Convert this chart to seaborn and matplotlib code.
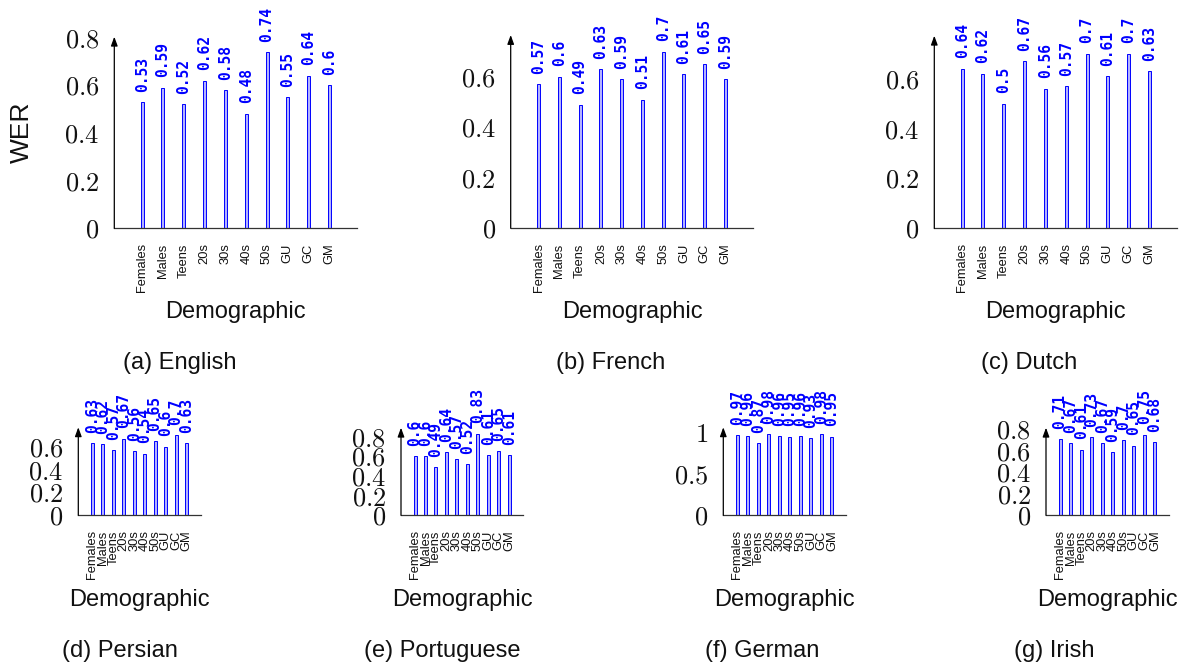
import matplotlib
matplotlib.use("Agg")
import matplotlib.pyplot as plt
import numpy as np
import pandas as pd
import seaborn as sns
from matplotlib.ticker import FixedLocator, FuncFormatter

# ---- data -------------------------------------------------------------
demographics = ["Females", "Males", "Teens", "20s", "30s", "40s", "50s", "GU", "GC", "GM"]

wer_english = [0.53, 0.59, 0.52, 0.62, 0.58, 0.48, 0.74, 0.55, 0.64, 0.60]
wer_french = [0.57, 0.60, 0.49, 0.63, 0.59, 0.51, 0.70, 0.61, 0.65, 0.59]
wer_dutch = [0.64, 0.62, 0.50, 0.67, 0.56, 0.57, 0.70, 0.61, 0.70, 0.63]
wer_persian = [0.63, 0.62, 0.57, 0.67, 0.56, 0.54, 0.65, 0.60, 0.70, 0.63]
wer_portuguese = [0.60, 0.60, 0.49, 0.64, 0.57, 0.52, 0.83, 0.61, 0.65, 0.61]
wer_german = [0.97, 0.96, 0.87, 0.98, 0.96, 0.95, 0.96, 0.93, 0.98, 0.95]
wer_irish = [0.71, 0.67, 0.61, 0.73, 0.67, 0.59, 0.70, 0.65, 0.75, 0.68]

captions = ["(a) English", "(b) French", "(c) Dutch", "(d) Persian",
            "(e) Portuguese", "(f) German", "(g) Irish"]
series = [wer_english, wer_french, wer_dutch, wer_persian,
          wer_portuguese, wer_german, wer_irish]
ytick_sets = [
    [0, 0.2, 0.4, 0.6, 0.8],
    [0, 0.2, 0.4, 0.6],
    [0, 0.2, 0.4, 0.6],
    [0, 0.2, 0.4, 0.6],
    [0, 0.2, 0.4, 0.6, 0.8],
    [0, 0.5, 1],
    [0, 0.2, 0.4, 0.6, 0.8],
]
ymax_list = [0.804, 0.766, 0.772, 0.769, 0.891, 1.065, 0.816]

# ---- layout (pixel boxes: left, top, right, bottom) ----------------------
W, H = 1184, 666
boxes = [
    (114.3, 36.7, 357.3, 228.3),
    (510.7, 35.0, 753.3, 228.3),
    (934.3, 35.7, 1177.3, 228.3),
    (78.3, 427.3, 200.5, 515.3),
    (401.0, 427.7, 523.3, 515.3),
    (723.3, 427.3, 846.0, 515.3),
    (1046.0, 427.7, 1169.0, 515.3),
]
caption_x = [180, 610.5, 1029, 120, 442.5, 762.5, 1054.5]

sns.set_style("white")
plt.rcParams["font.family"] = ["Liberation Sans", "DejaVu Sans"]
plt.rcParams["mathtext.fontset"] = "cm"

fig = plt.figure(figsize=(W / 100, H / 100), dpi=100)
fig.patch.set_facecolor("white")

MARGIN = 1.34          # empty category space left and right of the bars
BAR_PX = 3.0           # bar width in pixels
FILL = "#b3b3ff"
EDGE = "#0000ff"


def fx(x):
    return x / W


def fy(y):
    return 1 - y / H


for idx, (values, caption, box, yt, ymax) in enumerate(
        zip(series, captions, boxes, ytick_sets, ymax_list)):
    left, top, right, bottom = box
    ax = fig.add_axes([fx(left), fy(bottom), (right - left) / W, (bottom - top) / H])
    df = pd.DataFrame({"Demographic": demographics, "WER": values})

    span = 10 - 1 + 2 * MARGIN
    px_per_unit = (right - left) / span
    sns.barplot(data=df, x="Demographic", y="WER", ax=ax, color=FILL,
                saturation=1, edgecolor=EDGE, linewidth=0.7,
                width=BAR_PX / px_per_unit, errorbar=None)

    ax.set_xlim(-MARGIN, 9 + MARGIN)
    ax.set_ylim(0, ymax)
    ax.set_xlabel("")
    ax.set_ylabel("")
    ax.set_facecolor("none")

    for s in ("top", "right", "left"):
        ax.spines[s].set_visible(False)
    ax.spines["bottom"].set_color("#333333")
    ax.spines["bottom"].set_linewidth(0.9)

    # y axis drawn as an arrow
    ax.annotate("", xy=(0, 1), xycoords="axes fraction", xytext=(0, 0),
                textcoords="axes fraction",
                arrowprops=dict(arrowstyle="-|>,head_length=0.6,head_width=0.22",
                                color="black", lw=0.9, shrinkA=0, shrinkB=0,
                                mutation_scale=9))

    ax.yaxis.set_major_locator(FixedLocator(yt))
    ax.yaxis.set_major_formatter(FuncFormatter(lambda v, p: f"${v:g}$"))
    ax.tick_params(axis="y", direction="inout", length=7, width=0.6,
                   color="#9a9a9a", pad=7.3, labelsize=19, labelcolor="#111111")
    ax.tick_params(axis="x", direction="inout", length=7, width=0.6,
                   color="#9a9a9a", pad=7.3, labelsize=9.3, labelrotation=90,
                   labelcolor="#111111")

    for i, v in enumerate(values):
        ax.annotate(f"{v:g}", xy=(i, v), xytext=(0, 7.5), textcoords="offset points",
                    rotation=90, ha="center", va="bottom", color="blue",
                    fontsize=10.5, fontweight="bold", family="DejaVu Sans Mono",
                    annotation_clip=False)

    row_top = idx < 3
    fig.text(fx((left + right) / 2), fy(318.3 if row_top else 606.0), "Demographic",
             ha="center", va="baseline", fontsize=17, color="#111111")
    fig.text(fx(caption_x[idx]), fy(368.5 if row_top else 657.0), caption,
             ha="center", va="baseline", fontsize=17, color="#111111")

fig.text(fx(22), fy(132.5), "WER", rotation=90, ha="center", va="center",
         fontsize=19, color="#111111")

fig.savefig("out.png", dpi=100, facecolor="white")
